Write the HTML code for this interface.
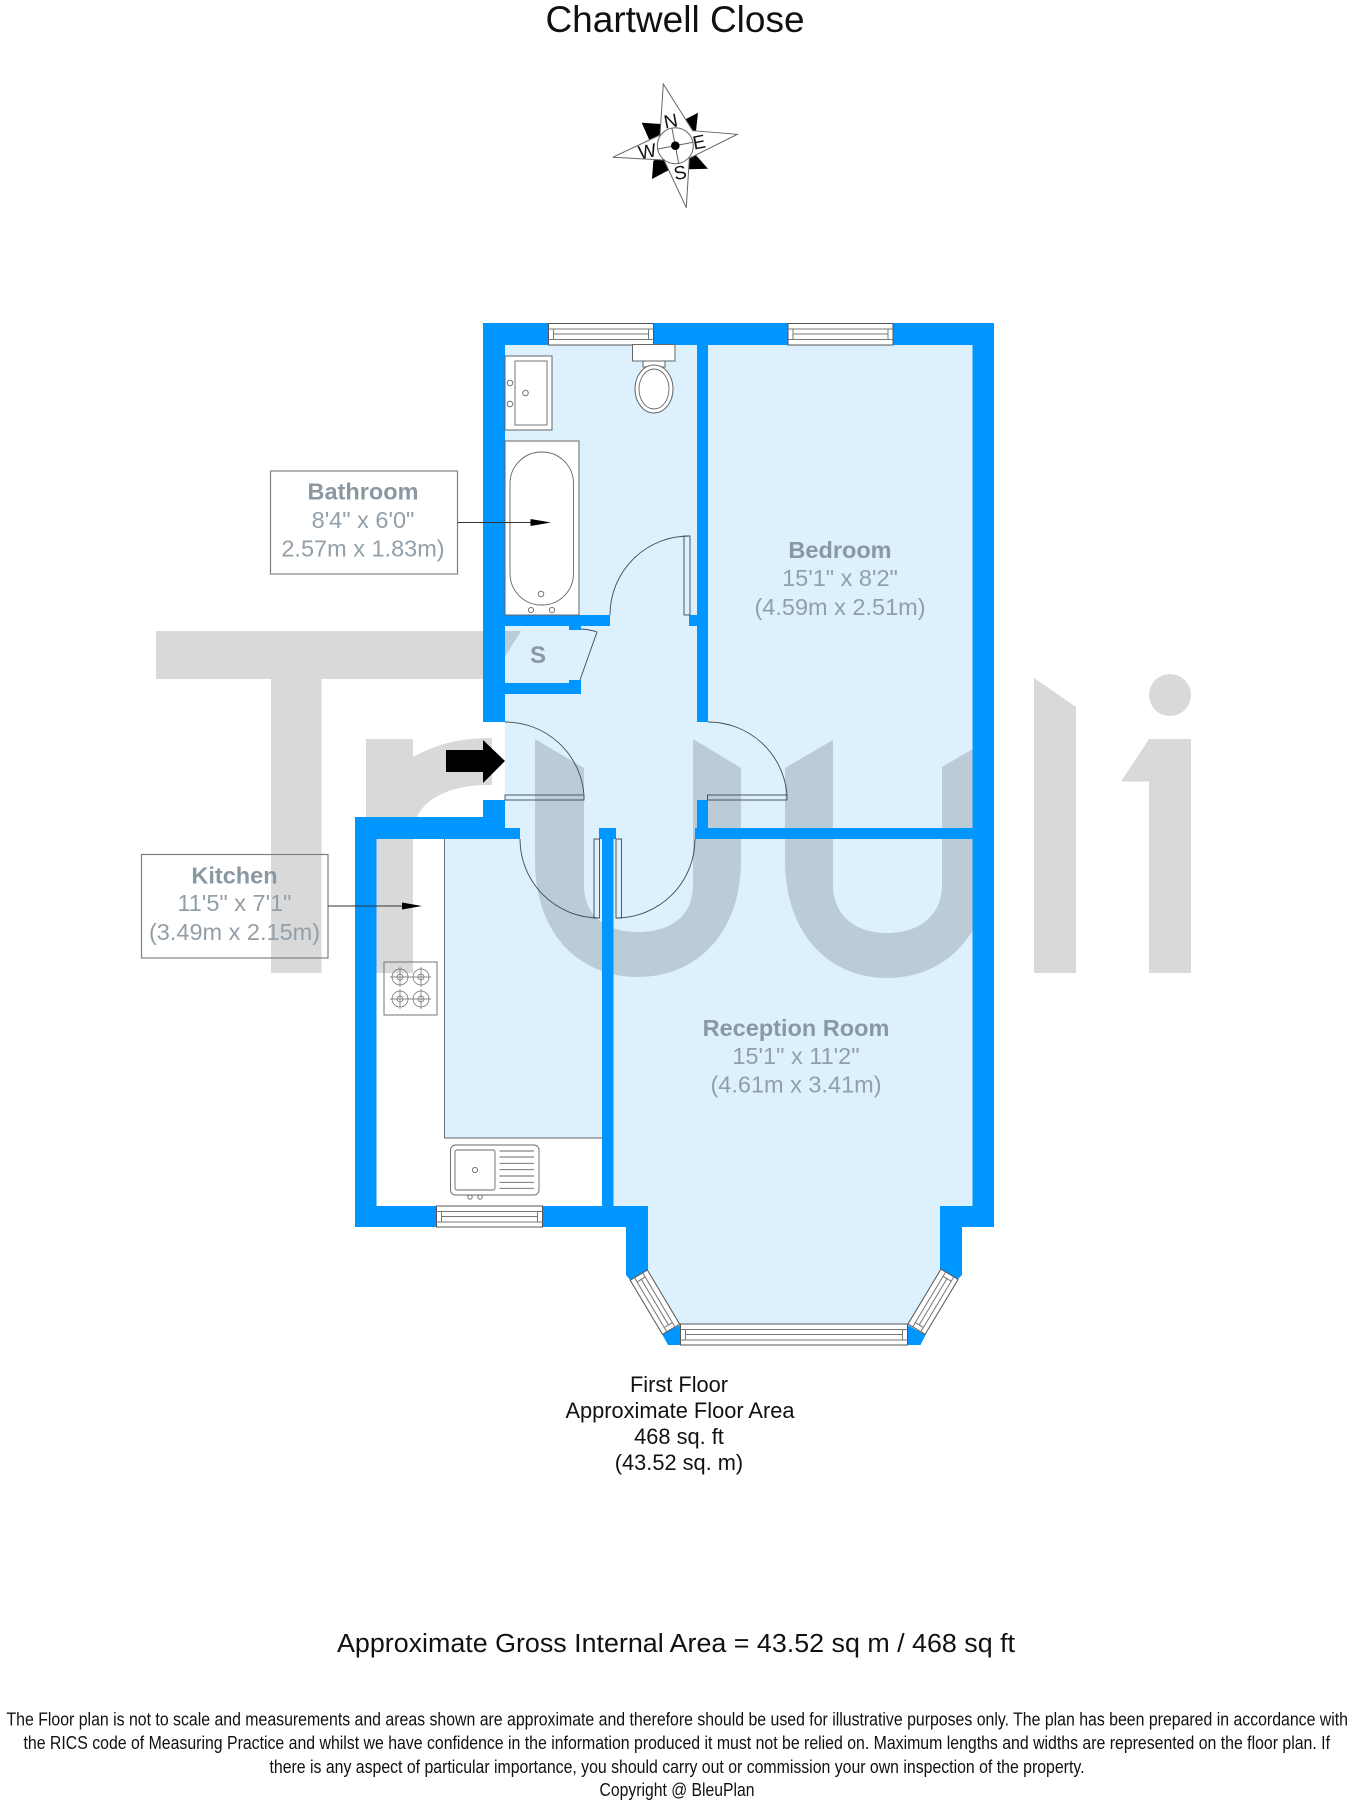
<!DOCTYPE html>
<html lang="en">
<head>
<meta charset="utf-8">
<title>Chartwell Close</title>
<style>
html,body{margin:0;padding:0;background:#fff;width:1350px;height:1808px;overflow:hidden}
svg{display:block}
text{font-family:"Liberation Sans",Arial,sans-serif}
.lab{font-size:23.5px;fill:#929fa8;text-anchor:middle}
.b{font-weight:bold;fill:#8a98a2}
.fl{font-size:21.8px;fill:#111;text-anchor:middle}
.ft{font-size:18px;fill:#111}
.ln{fill:none;stroke:#666;stroke-width:.9}
.dr{fill:none;stroke:#3d4a55;stroke-width:.9}
.fx{fill:#fff;stroke:#666;stroke-width:1}
.wb{fill:#fff;stroke:#555;stroke-width:1}
.wl{fill:none;stroke:#777;stroke-width:1}
</style>
</head>
<body>
<svg xmlns="http://www.w3.org/2000/svg" width="1350" height="1808" viewBox="0 0 1350 1808">
<rect width="1350" height="1808" fill="#fff"/>

<!-- room fills -->
<g fill="#dcf0fd">
<rect x="505" y="345" width="468" height="490"/>
<rect x="505" y="835" width="192" height="10"/>
<polygon points="445,836 973,836 973,1206 940,1206 940,1270 908,1324 680,1324 648,1270 648,1206 602,1206 602,1138 445,1138"/>
</g>

<!-- watermark -->
<g fill="#d9d9d9" style="mix-blend-mode:multiply">
<path d="M156,631 H521 L491,679 H321.5 V973 H271 V679 H156 Z"/>
<path d="M366,739 H413 V757 C440,742 465,738 492,738 V785 C450,784 413,800 413,835 V973 H366 Z"/>
<path d="M535,739 L584,768 V885 C584,915 605,932 638,932 C672,932 693,915 693,885 V739 L741,768 V860 C741,935 695,977 638,977 C580,977 535,935 535,860 Z"/>
<path d="M833,740 V885 C833,915 855,933 887,933 C920,933 942,915 942,885 V767 L990,739 V860 C990,935 945,978 887,978 C830,978 785,935 785,860 V768 Z"/>
<path d="M1034,678 L1076,707 V973 H1034 Z"/>
<circle cx="1170" cy="695" r="21"/>
<path d="M1149,739 H1191 V973 H1149 V781.5 H1121 Z"/>
</g>

<!-- walls -->
<g fill="#0096ff">
<rect x="483" y="323" width="511" height="22"/>
<rect x="483" y="323" width="22" height="399"/>
<rect x="483" y="800" width="22" height="28"/>
<rect x="355" y="817" width="150" height="22"/>
<rect x="500" y="828" width="20" height="11"/>
<rect x="355" y="817" width="21.5" height="410"/>
<rect x="355" y="1206" width="293" height="21"/>
<polygon points="626,1220 648,1206 648,1270 630,1280 626,1275"/>
<rect x="602" y="839" width="11.5" height="367"/>
<rect x="599" y="828" width="17" height="11"/>
<rect x="697" y="345" width="11" height="377"/>
<rect x="697" y="800" width="11" height="30"/>
<rect x="695" y="828" width="278" height="11"/>
<rect x="972.5" y="323" width="21.5" height="904"/>
<rect x="940" y="1206" width="54" height="21"/>
<polygon points="940,1206 962,1206 962,1275 958,1279 940,1269"/>
<rect x="505" y="615" width="105" height="11"/>
<rect x="569" y="626" width="12" height="4"/>
<rect x="689" y="615" width="8" height="11"/>
<rect x="505" y="683" width="76" height="11"/>
<rect x="569" y="680" width="12" height="4"/>
<polygon points="680,1325 680.5,1345 668,1345 662,1334"/>
<polygon points="907.5,1325 907.5,1345 920.5,1345 925.6,1335"/>
</g>

<!-- windows -->
<g>
<g transform="translate(548.5,323.5)"><rect class="wb" width="105" height="21.5"/><path class="wl" d="M0 5.5H105M0 16H105M5 5.5V16M100 5.5V16M5 10.500H100"/></g>
<g transform="translate(788,323.5)"><rect class="wb" width="105" height="21.5"/><path class="wl" d="M0 5.5H105M0 16H105M5 5.5V16M100 5.5V16M5 10.500H100"/></g>
<g transform="translate(436.5,1206)"><rect class="wb" width="106" height="21"/><path class="wl" d="M0 5.5H106M0 16H106M5 5.5V16M101 5.5V16M5 10.500H101"/></g>
<g transform="translate(680.5,1324)"><rect class="wb" width="227" height="21"/><path class="wl" d="M0 5.5H227M0 16H227M5 5.5V16M222 5.5V16M5 10.500H222"/></g>
<g transform="translate(647.4,1270) rotate(59.2)"><rect class="wb" width="63" height="20"/><path class="wl" d="M0 5.5H63M0 15H63M5 5.5V15M58 5.5V15M5 10H58"/></g>
<g transform="translate(908,1324) rotate(-59)"><rect class="wb" width="64" height="20"/><path class="wl" d="M0 5.5H64M0 15H64M5 5.5V15M59 5.5V15M5 10H59"/></g>
</g>

<!-- kitchen worktop edge -->
<path class="ln" d="M444.5 839V1138H603"/>

<!-- bathroom fixtures -->
<rect class="fx" x="505" y="356" width="47" height="74"/>
<rect class="ln" x="515" y="361" width="32" height="64"/>
<circle class="ln" cx="510" cy="383" r="2.8"/>
<circle class="ln" cx="510" cy="404" r="2.8"/>
<circle class="ln" cx="525.5" cy="393" r="2.8"/>
<rect class="fx" x="505" y="441" width="74" height="174"/>
<rect class="ln" x="510" y="452" width="63.5" height="153" rx="31.5"/>
<circle class="ln" cx="541" cy="594" r="2.8"/>
<circle class="ln" cx="531" cy="610" r="2.6"/>
<circle class="ln" cx="552" cy="610" r="2.6"/>
<rect class="fx" x="632.5" y="344.5" width="42.5" height="16.5"/>
<rect class="fx" x="643" y="361" width="22" height="6"/>
<ellipse class="fx" cx="654" cy="389" rx="19" ry="24"/>
<ellipse class="ln" cx="654" cy="389" rx="15" ry="20"/>

<!-- hob -->
<rect class="ln" x="384" y="962" width="53" height="53"/>
<g class="ln" style="stroke-width:.7">
<circle cx="400" cy="977" r="8"/><circle cx="400" cy="977" r="3"/>
<circle cx="421" cy="977" r="8"/><circle cx="421" cy="977" r="3"/>
<circle cx="400" cy="999" r="8"/><circle cx="400" cy="999" r="3"/>
<circle cx="421" cy="999" r="8"/><circle cx="421" cy="999" r="3"/>
<path d="M390 977H431M400 967V987M421 967V987M390 999H431M400 989V1009M421 989V1009"/>
</g>

<!-- sink -->
<rect class="ln" x="450.5" y="1145" width="88.5" height="50" rx="5"/>
<rect class="ln" x="455" y="1150" width="40" height="40" rx="2"/>
<circle class="ln" cx="475" cy="1170" r="2.6"/>
<circle class="ln" cx="470" cy="1197" r="2.2"/>
<circle class="ln" cx="480" cy="1197" r="2.2"/>
<path class="ln" d="M499.5 1151H534M499.5 1157H534M499.5 1163.3H534M499.5 1169.7H534M499.5 1176H534M499.5 1182.3H534M499.5 1188.3H534"/>

<!-- doors -->
<rect class="dr" x="684" y="536" width="6" height="79"/>
<path class="dr" d="M690 536A79 79 0 0 0 610 615"/>
<path class="dr" d="M581 629Q590 629.500 597 632L580 680"/>
<rect class="dr" x="505" y="795" width="79" height="5"/>
<path class="dr" d="M505 722A79 79 0 0 1 584 795"/>
<rect class="dr" x="707.500" y="795" width="79.500" height="5"/>
<path class="dr" d="M708 722A79 79 0 0 1 787 795"/>
<rect class="dr" x="594" y="839" width="5.500" height="79"/>
<path class="dr" d="M520 839A79 79 0 0 0 599 918"/>
<rect class="dr" x="616" y="839" width="5.500" height="79"/>
<path class="dr" d="M695 839A79 79 0 0 1 616 918"/>

<!-- entrance arrow -->
<polygon points="446,750 483,750 483,740 505,761 483,783 483,772 446,772" fill="#000"/>

<!-- label boxes and leaders -->
<rect x="270.500" y="471" width="187" height="103" fill="none" stroke="#808080" stroke-width="1.200"/>
<rect x="141.500" y="854.500" width="186.500" height="103.500" fill="none" stroke="#808080" stroke-width="1.200"/>
<path d="M457.500 522.500H532" stroke="#333" stroke-width="1" fill="none"/>
<polygon points="530.500,519 551,522.500 530.500,526" fill="#000"/>
<path d="M328 906H404" stroke="#333" stroke-width="1" fill="none"/>
<polygon points="402,902.500 422,906 402,909.500" fill="#000"/>

<!-- room labels -->
<text class="lab b" x="363" y="499.500">Bathroom</text>
<text class="lab" x="363" y="528">8'4" x 6'0"</text>
<text class="lab" x="363" y="556.500">2.57m x 1.83m)</text>

<text class="lab b" x="840" y="558">Bedroom</text>
<text class="lab" x="840" y="586">15'1" x 8'2"</text>
<text class="lab" x="840" y="615">(4.59m x 2.51m)</text>

<text class="lab b" x="538" y="663" style="font-size:24px">S</text>

<text class="lab b" x="234.500" y="883.500">Kitchen</text>
<text class="lab" x="234.500" y="911">11'5" x 7'1"</text>
<text class="lab" x="234.500" y="940">(3.49m x 2.15m)</text>

<text class="lab b" x="796" y="1036">Reception Room</text>
<text class="lab" x="796" y="1064">15'1" x 11'2"</text>
<text class="lab" x="796" y="1092.500">(4.61m x 3.41m)</text>

<!-- compass -->
<g fill="#000">
<polygon points="698,112.700 680.700,121.700 675.300,145.700 696,131"/>
<polygon points="641.700,122.700 661,124 675.300,145.700 649.300,140"/>
<polygon points="652,179 653.300,161 675.300,145.700 669,170"/>
<polygon points="708,168.700 689.300,169.300 675.300,145.700 694,153"/>
</g>
<polygon points="663.300,84 692.700,130.700 737.300,134.300 689.300,158.300 686.300,207.700 664,160 612.700,157.300 660,135" fill="#fff" stroke="#666" stroke-width="1"/>
<circle cx="675.300" cy="145.700" r="18" fill="#fff" stroke="#666" stroke-width="1"/>
<path d="M671.900,128 L678.700,163.400 M657.600,149.100 L693,142.300" stroke="#666" stroke-width="1" fill="none"/>
<circle cx="675.300" cy="145.700" r="4.300" fill="#000"/>
<g font-size="19" fill="#111" text-anchor="middle">
<text transform="translate(670.700,120.700) rotate(-11)" y="6.800">N</text>
<text transform="translate(699,141.700) rotate(-11)" y="6.800">E</text>
<text transform="translate(680,172.300) rotate(-11)" y="6.800">S</text>
<text transform="translate(647.300,151) rotate(-11)" y="6.800">W</text>
</g>

<!-- titles -->
<text x="675" y="32" font-size="37" fill="#111" text-anchor="middle">Chartwell Close</text>

<text class="fl" x="679" y="1392">First Floor</text>
<text class="fl" x="680" y="1418">Approximate Floor Area</text>
<text class="fl" x="679" y="1444">468 sq. ft</text>
<text class="fl" x="679" y="1470">(43.52 sq. m)</text>

<text x="337" y="1652" font-size="25.500" fill="#111" textLength="678" lengthAdjust="spacingAndGlyphs">Approximate Gross Internal Area = 43.52 sq m / 468 sq ft</text>

<text class="ft" x="6.500" y="1725.500" textLength="1341.500" lengthAdjust="spacingAndGlyphs">The Floor plan is not to scale and measurements and areas shown are approximate and therefore should be used for illustrative purposes only. The plan has been prepared in accordance with</text>
<text class="ft" x="23.500" y="1749" textLength="1306.500" lengthAdjust="spacingAndGlyphs">the RICS code of Measuring Practice and whilst we have confidence in the information produced it must not be relied on. Maximum lengths and widths are represented on the floor plan. If</text>
<text class="ft" x="269.500" y="1773" textLength="815" lengthAdjust="spacingAndGlyphs">there is any aspect of particular importance, you should carry out or commission your own inspection of the property.</text>
<text class="ft" x="599.500" y="1796" textLength="155" lengthAdjust="spacingAndGlyphs">Copyright @ BleuPlan</text>
</svg>
</body>
</html>
